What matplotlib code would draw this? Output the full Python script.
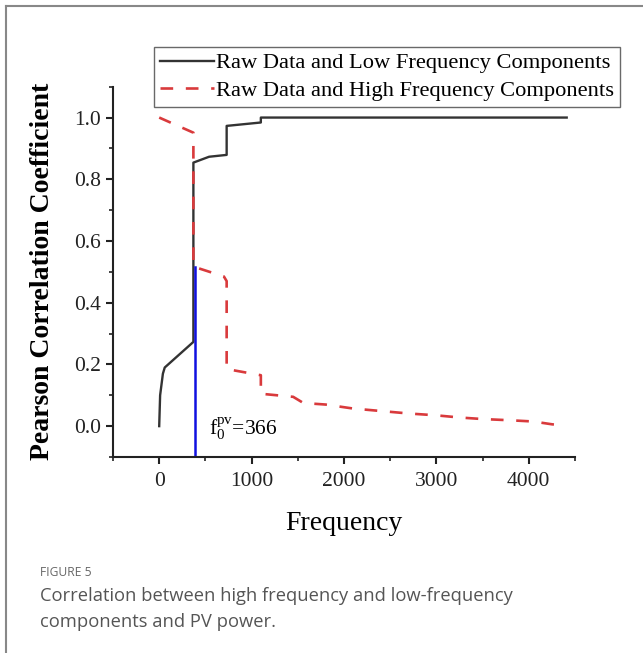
import matplotlib
matplotlib.use("Agg")
import matplotlib.pyplot as plt
from matplotlib.ticker import MultipleLocator
from matplotlib.lines import Line2D

# Data
low_x = [0, 10, 40, 60, 370, 370, 540, 730, 730, 1100, 1100, 4410]
low_y = [0.0, 0.10, 0.17, 0.19, 0.273, 0.854, 0.873, 0.879, 0.973, 0.984, 1.0, 1.0]
high_x = [0, 370, 370, 700, 730, 730, 1100, 1100, 1450, 1560, 1800, 2100,
          2400, 2700, 3000, 3250, 3500, 3800, 4050, 4250, 4380]
high_y = [1.0, 0.951, 0.517, 0.485, 0.47, 0.185, 0.165, 0.105, 0.095, 0.075, 0.07,
          0.057, 0.049, 0.041, 0.035, 0.028, 0.023, 0.019, 0.015, 0.006, 0.002]
f0_value = 385
f0_top = 0.515
label_low = "Raw Data and Low Frequency Components"
label_high = "Raw Data and High Frequency Components"
x_ticks = [0, 1000, 2000, 3000, 4000]
y_ticks = [0.0, 0.2, 0.4, 0.6, 0.8, 1.0]

plt.rcParams['font.family'] = ['Liberation Serif', 'DejaVu Serif']
plt.rcParams['mathtext.fontset'] = 'custom'
plt.rcParams['mathtext.rm'] = 'Liberation Serif'
plt.rcParams['mathtext.it'] = 'Liberation Serif:italic'

fig = plt.figure(figsize=(6.43, 6.53), dpi=100)
ax = fig.add_axes([113/643, 1-457/653, (575-113)/643, (457-86.7)/653])

ax.plot(low_x, low_y, color='#333333', lw=1.7, label=label_low)
ax.plot(high_x, high_y, color='#d93a3c', lw=1.9, ls=(0, (4.8, 4.8)), label=label_high)
ax.plot([f0_value, f0_value], [-0.1, f0_top], color='#1010e0', lw=1.8)
ax.text(540, -0.03, r'$\mathrm{f_0^{pv}}$=366', fontsize=15.5, ha='left', va='baseline')

ax.set_xlim(-500, 4500)
ax.set_ylim(-0.1, 1.1)
ax.set_xticks(x_ticks)
ax.set_yticks(y_ticks)
ax.set_yticklabels([f"{v:.1f}" for v in y_ticks])
ax.xaxis.set_minor_locator(MultipleLocator(500))
ax.yaxis.set_minor_locator(MultipleLocator(0.1))
for s in ['top', 'right']:
    ax.spines[s].set_visible(False)
for s in ['left', 'bottom']:
    ax.spines[s].set_linewidth(1.5)
    ax.spines[s].set_color('#222222')
ax.tick_params(which='major', direction='out', length=5, width=1.5, labelsize=15.5, colors='#222222')
ax.tick_params(which='minor', direction='out', length=3, width=1.2, colors='#222222')
ax.tick_params(axis='x', pad=6)
ax.set_xlabel("Frequency", fontsize=20, labelpad=14)
ax.set_ylabel("Pearson Correlation Coefficient", fontsize=20, fontweight='bold', labelpad=14)

leg = fig.legend(loc='upper right', bbox_to_anchor=(620/643, 1-47/653), fontsize=16.2,
                 frameon=True, fancybox=False, edgecolor='#444444', handlelength=2.4,
                 handletextpad=0.1, labelspacing=0.3, borderpad=0.25, borderaxespad=0)
leg.get_frame().set_linewidth(1.0)

# outer frame
fig.add_artist(Line2D([6/643, 6/643], [0, 1-6/653], color='#888888', lw=1.5, transform=fig.transFigure))
fig.add_artist(Line2D([6/643, 1], [1-6/653, 1-6/653], color='#888888', lw=1.5, transform=fig.transFigure))

fig.text(40/643, 1-572/653, "FIGURE 5", fontsize=8.7, color='#666666', family=['Open Sans', 'DejaVu Sans'], va='center')
fig.text(40/643, 1-596/653, "Correlation between high frequency and low-frequency", fontsize=13.2,
         color='#555555', family=['Open Sans', 'DejaVu Sans'], va='center')
fig.text(40/643, 1-622/653, "components and PV power.", fontsize=13.2,
         color='#555555', family=['Open Sans', 'DejaVu Sans'], va='center')

fig.savefig("out.png", dpi=100)
